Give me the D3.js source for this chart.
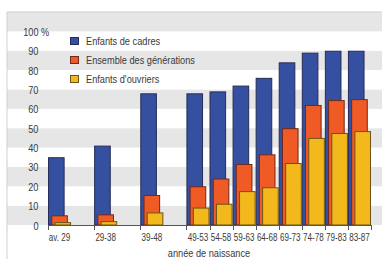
<!DOCTYPE html>
<html><head><meta charset="utf-8">
<script src="https://cdn.jsdelivr.net/npm/d3@7"></script>
<style>
html,body{margin:0;padding:0;background:#fff;}
svg{display:block;}
text{font-family:"Liberation Sans",Arial,sans-serif;fill:#3a3a3a;}
</style></head><body>
<svg id="c" width="382" height="259"></svg>
<script>
const categories = ["av. 29","29-38","39-48","49-53","54-58","59-63","64-68","69-73","74-78","79-83","83-87"];
const spanUnits = [2,2,2,1,1,1,1,1,1,1,1];
const cadres    = [35,41,68,68,69,72,76,84,89,90,90];
const ensemble  = [5,5.5,15.5,20,24,31.5,36.5,50,62,64.5,65];
const ouvriers  = [1.5,2,6.5,9,11,17.5,19.5,32,45,47.5,48.5];
const seriesNames = ["Enfants de cadres","Ensemble des générations","Enfants d'ouvriers"];
const yTicks = [0,10,20,30,40,50,60,70,80,90,100];

const colors = ["#3550a0","#f05a24","#f2b81c"];
const strokes = ["#262c55","#6e2a1c","#6d5418"];

const svg = d3.select("#c");
const W = 382, H = 259;
const starts = [];
let acc = 0;
spanUnits.forEach(u => { starts.push(acc); acc += u; });
const x = d3.scaleLinear().domain([0, acc]).range([48, 371]);
const y = d3.scaleLinear().domain([0, 110]).range([225, 12]);
const unit = x(1) - x(0);

function condense(sel, k) {
  sel.each(function() {
    const w = this.getComputedTextLength();
    d3.select(this).attr("textLength", w * k).attr("lengthAdjust", "spacingAndGlyphs");
  });
}

// bands
const bandEdges = d3.range(0, 110, 10);
svg.selectAll("rect.band").data(bandEdges).enter().append("rect")
  .attr("x", 7).attr("width", W - 7)
  .attr("y", d => y(d + 10)).attr("height", d => y(d) - y(d + 10))
  .attr("fill", (d, i) => i % 2 === 0 ? "#e6e6e6" : "#ffffff");
// frame
svg.append("line").attr("x1", 7).attr("x2", W).attr("y1", 12).attr("y2", 12).attr("stroke", "#cfcfcf").attr("stroke-width", 1);
svg.append("line").attr("x1", 7).attr("x2", 7).attr("y1", 12).attr("y2", H).attr("stroke", "#cfcfcf").attr("stroke-width", 1);

// y labels
const yl = svg.selectAll("text.yl").data(yTicks).enter().append("text")
  .attr("x", 38.5).attr("y", d => y(d) + 1.5)
  .attr("text-anchor", "end").attr("dominant-baseline", "middle")
  .attr("font-size", 11.5).text(d => d);
condense(yl, 0.8);
const pct = svg.append("text").attr("x", 41).attr("y", y(100) + 1.5).attr("dominant-baseline", "middle")
  .attr("font-size", 11.5).text("%");
condense(pct, 0.8);

// bars
const series = [cadres, ensemble, ouvriers];
const bw = unit * 0.72, off = unit * 0.14;
series.forEach((vals, s) => {
  svg.selectAll("rect.s" + s).data(vals).enter().append("rect")
    .attr("x", (d, i) => x(starts[i]) + s * off + 0.5)
    .attr("width", bw - 1)
    .attr("y", d => y(d) + 0.5)
    .attr("height", d => y(0) - y(d) - 0.5)
    .attr("fill", colors[s]).attr("stroke", strokes[s]).attr("stroke-width", 1);
});

// x axis
const g = svg.append("g");
g.append("line").attr("x1", x(0)).attr("x2", x(acc)).attr("y1", 225.5).attr("y2", 225.5)
  .attr("stroke", "#555").attr("stroke-width", 1);
const bounds = starts.concat([acc]);
g.selectAll("line.t").data(bounds).enter().append("line")
  .attr("x1", d => Math.round(x(d)) + 0.5).attr("x2", d => Math.round(x(d)) + 0.5)
  .attr("y1", 225).attr("y2", 230).attr("stroke", "#555");
const xl = g.selectAll("text.xl").data(categories).enter().append("text")
  .attr("x", (d, i) => x(starts[i] + 0.5))
  .attr("y", 238).attr("text-anchor", "middle").attr("dominant-baseline", "middle")
  .attr("font-size", 11.5).text(d => d);
condense(xl, 0.7);
const tt = svg.append("text").attr("x", 209).attr("y", 254).attr("text-anchor", "middle")
  .attr("dominant-baseline", "middle").attr("font-size", 11.5).text("année de naissance");
condense(tt, 0.8);

// legend
const lg = svg.append("g");
seriesNames.forEach((n, i) => {
  const yy = 41 + i * 19;
  lg.append("rect").attr("x", 70.5).attr("y", yy - 3.5).attr("width", 8).attr("height", 7)
    .attr("fill", colors[i]).attr("stroke", strokes[i]);
  const t = lg.append("text").attr("x", 86).attr("y", yy + 0.5).attr("dominant-baseline", "middle")
    .attr("font-size", 11.5).text(n);
  condense(t, 0.8);
});
</script></body></html>
